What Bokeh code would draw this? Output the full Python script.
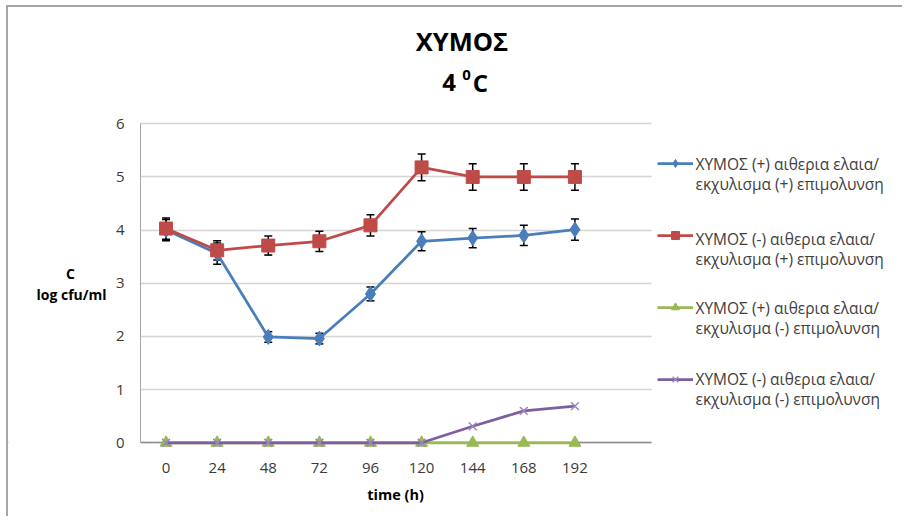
from bokeh.plotting import figure
from bokeh.models import (ColumnDataSource, Whisker, TeeHead, Label, Legend,
                          LegendItem, Range1d, FixedTicker, Grid, BoxAnnotation)
from bokeh.embed import file_html
from bokeh.resources import INLINE

# ---------------- data ----------------
hours = [0, 24, 48, 72, 96, 120, 144, 168, 192]
blue_vals = [4.00, 3.56, 1.99, 1.96, 2.80, 3.79, 3.85, 3.90, 4.01]
blue_err = [0.20, 0.20, 0.10, 0.10, 0.13, 0.18, 0.18, 0.19, 0.20]
red_vals = [4.03, 3.62, 3.71, 3.79, 4.09, 5.18, 5.00, 5.00, 5.00]
red_err = [0.20, 0.18, 0.18, 0.19, 0.20, 0.25, 0.25, 0.25, 0.25]
green_vals = [0, 0, 0, 0, 0, 0, 0, 0, 0]
purple_vals = [0, 0, 0, 0, 0, 0, 0.31, 0.60, 0.69]

series_lines = [
    ("ΧΥΜΟΣ (+) αιθερια ελαια/", "εκχυλισμα (+) επιμολυνση"),
    ("ΧΥΜΟΣ (-) αιθερια ελαια/", "εκχυλισμα (+) επιμολυνση"),
    ("ΧΥΜΟΣ (+) αιθερια ελαια/", "εκχυλισμα (-) επιμολυνση"),
    ("ΧΥΜΟΣ (-) αιθερια ελαια/", "εκχυλισμα (-) επιμολυνση"),
]
title_main = "ΧΥΜΟΣ"
title_temp = ("4", "0", "C")
y_label_lines = ("C", "log cfu/ml")
x_label = "time (h)"
y_ticks = [0, 1, 2, 3, 4, 5, 6]
x_bounds = (-12, 228)
y_bounds = (0, 6)

colors = ["#4a7ebb", "#be4b48", "#98b954", "#7d5fa0"]
FONT = "Open Sans"
TXT = "#404040"

# frame covers the whole canvas; axes are pinned inside it
p = figure(width=896, height=511, title=None,
           x_range=Range1d(-73.98, 346.76), y_range=Range1d(-1.424, 8.187),
           output_backend="svg", toolbar_location=None,
           min_border_left=0, min_border_right=0, min_border_top=0, min_border_bottom=0)
p.outline_line_color = None
p.background_fill_color = "white"
p.border_fill_color = "white"
p.styles = {"margin-left": "6px", "margin-top": "5px",
            "border-top": "2px solid #a6a6a6", "border-left": "2px solid #a6a6a6"}

# axes
p.xaxis.ticker = FixedTicker(ticks=hours)
p.yaxis.ticker = FixedTicker(ticks=y_ticks)
p.yaxis.bounds = y_bounds
p.xaxis.bounds = x_bounds
p.yaxis.fixed_location = x_bounds[0]
p.xaxis.fixed_location = -0.15
p.xaxis.axis_line_color = None
p.yaxis.axis_line_color = "#a6a6a6"
for ax in (p.xaxis[0], p.yaxis[0]):
    ax.major_tick_line_color = None
    ax.minor_tick_line_color = None
    ax.major_tick_out = 0
    ax.major_tick_in = 0
    ax.major_label_text_font = FONT
    ax.major_label_text_font_size = "15px"
    ax.major_label_text_color = "#3a3a3a"
p.xaxis.major_label_standoff = 12
p.yaxis.major_label_standoff = 16

p.xgrid.grid_line_color = None
p.ygrid.grid_line_color = "#d4d4d4"
p.ygrid.grid_line_width = 1.5
p.add_layout(Grid(dimension=1, ticker=FixedTicker(ticks=[0]),
                  grid_line_color="#8c8c8c", grid_line_width=1.5))

# keep grid lines inside the plot area
p.add_layout(BoxAnnotation(right=x_bounds[0], fill_color="white", fill_alpha=1,
                           line_color=None, level="underlay"))
p.add_layout(BoxAnnotation(left=x_bounds[1], fill_color="white", fill_alpha=1,
                           line_color=None, level="underlay"))

# error bars
src_b = ColumnDataSource(dict(x=hours, y=blue_vals,
                              lo=[v - e for v, e in zip(blue_vals, blue_err)],
                              hi=[v + e for v, e in zip(blue_vals, blue_err)]))
src_r = ColumnDataSource(dict(x=hours, y=red_vals,
                              lo=[v - e for v, e in zip(red_vals, red_err)],
                              hi=[v + e for v, e in zip(red_vals, red_err)]))
for src in (src_b, src_r):
    w = Whisker(source=src, base="x", upper="hi", lower="lo", level="underlay",
                line_color="black", line_width=1.5,
                upper_head=TeeHead(size=8, line_color="black", line_width=1.5),
                lower_head=TeeHead(size=8, line_color="black", line_width=1.5))
    p.add_layout(w)

src_g = ColumnDataSource(dict(x=hours, y=green_vals))
src_p = ColumnDataSource(dict(x=hours, y=purple_vals))

l1 = p.line("x", "y", source=src_b, line_color=colors[0], line_width=2.75)
m1 = p.scatter("x", "y", source=src_b, marker="diamond", size=15, color=colors[0])
l2 = p.line("x", "y", source=src_r, line_color=colors[1], line_width=2.75)
m2 = p.scatter("x", "y", source=src_r, marker="square", size=13, color=colors[1])
l3 = p.line("x", "y", source=src_g, line_color=colors[2], line_width=2.75)
m3 = p.scatter("x", "y", source=src_g, marker="triangle", size=12, color=colors[2])
l4 = p.line("x", "y", source=src_p, line_color=colors[3], line_width=2.75)
m4 = p.scatter("x", "y", source=src_p, marker="x", size=11, line_color="#9b86c0", line_width=1.5)

# legend glyph samples (texts drawn separately as labels)
legend = Legend(items=[LegendItem(label=" ", renderers=[l1, m1]),
                       LegendItem(label=" ", renderers=[l2, m2]),
                       LegendItem(label=" ", renderers=[l3, m3]),
                       LegendItem(label=" ", renderers=[l4, m4])],
                location=(649, 129), orientation="vertical",
                glyph_width=36, glyph_height=20, label_height=20,
                spacing=52, padding=0, margin=0, label_standoff=0,
                border_line_color=None, background_fill_alpha=0,
                label_text_font_size="13px")
p.add_layout(legend, "center")

def lab(x, y, text, size, bold=False, align="left", color=TXT):
    p.add_layout(Label(x=x, y=y, x_units="screen", y_units="screen", text=text,
                       text_font=FONT, text_font_size=size,
                       text_font_style="bold" if bold else "normal",
                       text_align=align, text_baseline="middle", text_color=color))

legend_rows = [355, 280, 211, 140]
for (a, b), yy in zip(series_lines, legend_rows):
    lab(687, yy, a, "15.5px")
    lab(687, yy - 20, b, "15.5px")

# title (two lines, superscript zero)
lab(453.5, 478, title_main, "25.5px", bold=True, align="center", color="black")
lab(440.5, 436.5, title_temp[0], "24px", bold=True, align="center", color="black")
lab(458, 443.5, title_temp[1], "15px", bold=True, align="center", color="black")
lab(472, 436.5, title_temp[2], "24px", bold=True, align="center", color="black")

# axis titles
lab(62, 245, y_label_lines[0], "14px", bold=True, align="center", color="black")
lab(63, 224, y_label_lines[1], "14px", bold=True, align="center", color="black")
lab(387, 24, x_label, "14.5px", bold=True, align="center", color="black")

open("out.html", "w").write(file_html(p, INLINE))
